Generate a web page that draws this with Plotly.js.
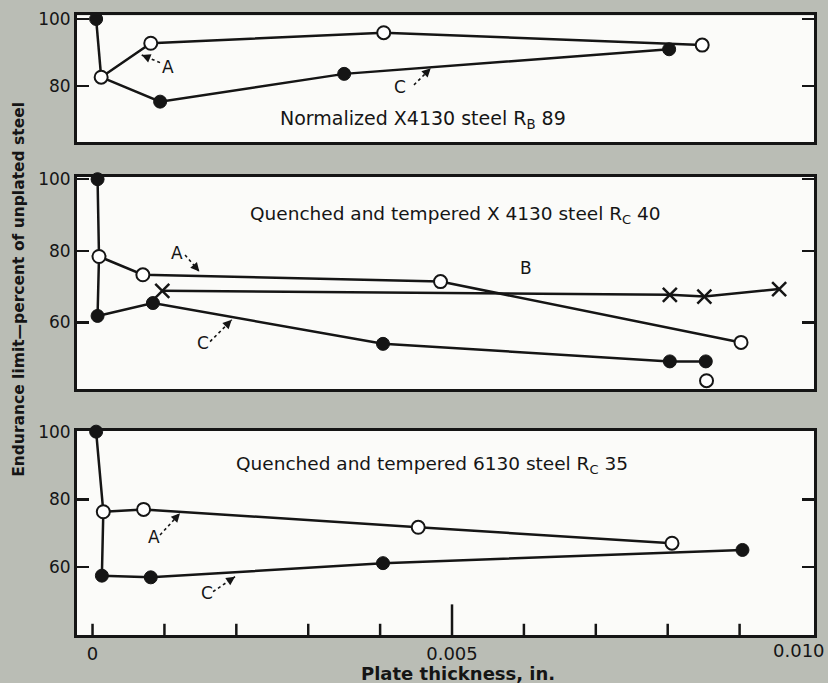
<!DOCTYPE html>
<html>
<head>
<meta charset="utf-8">
<script src="https://cdn.plot.ly/plotly-3.0.1.min.js"></script>
<style>html,body{margin:0;padding:0;background:#babdb5;}#chart{width:828px;height:683px;}</style>
</head>
<body>
<div id="chart"></div>
<script>
// ---------- DATA ----------
// Top panel: Normalized X4130 steel RB 89
var top_ctrl_x = [0.00005];
var top_ctrl_y = [100];
var top_A_x = [0.00012, 0.00081, 0.00405, 0.00848];
var top_A_y = [82.6, 92.75, 95.9, 92.2];
var top_C_x = [0.00012, 0.00094, 0.0035, 0.00802];
var top_C_y = [82.6, 75.3, 83.6, 90.95];

// Middle panel: Quenched and tempered X 4130 steel Rc 40
var mid_ctrl_x = [0.00007];
var mid_ctrl_y = [100];
var mid_A_x = [0.00009, 0.0007, 0.00484, 0.00902];
var mid_A_y = [78.4, 73.3, 71.4, 54.4];
var mid_A_extra_x = [0.00854];
var mid_A_extra_y = [43.7];
var mid_B_x = [0.00097, 0.00803, 0.00851, 0.00955];
var mid_B_y = [68.8, 67.7, 67.2, 69.3];
var mid_C_x = [0.00007, 0.00084, 0.00404, 0.00803, 0.00853];
var mid_C_y = [61.8, 65.4, 54.0, 49.1, 49.1];

// Bottom panel: Quenched and tempered 6130 steel Rc 35
var bot_ctrl_x = [0.00005];
var bot_ctrl_y = [100];
var bot_A_x = [0.00015, 0.00071, 0.00453, 0.00806];
var bot_A_y = [76.3, 77.0, 71.7, 67.0];
var bot_C_x = [0.00013, 0.00081, 0.00404, 0.00904];
var bot_C_y = [57.4, 56.9, 61.1, 65.0];

var x_tickvals = [0, 0.005];
var x_ticktext = ['0', '0.005'];
var x_last_label = '0.010';
var x_minor_ticks = [0, 0.001, 0.002, 0.003, 0.004, 0.005, 0.006, 0.007, 0.008, 0.009];
var y_ticks_top = [80, 100];
var y_ticks = [60, 80, 100];

// ---------- STYLE ----------
var INK = '#151515';
var FONT = 'DejaVu Sans, Verdana, sans-serif';
var lineStyle = {color: INK, width: 2.5};
var filled = {symbol: 'circle', size: 13, color: INK, line: {color: INK, width: 1}};
var open = {symbol: 'circle', size: 13, color: '#ffffff', line: {color: INK, width: 2}};
var cross = {symbol: 'x-thin-open', size: 14, color: INK, line: {color: INK, width: 2.5}};

function lineTrace(x, y, ax) {
  return {x: x, y: y, xaxis: 'x' + ax, yaxis: 'y' + ax, mode: 'lines', line: lineStyle,
          hoverinfo: 'skip', showlegend: false, cliponaxis: false};
}
function markTrace(x, y, ax, m) {
  return {x: x, y: y, xaxis: 'x' + ax, yaxis: 'y' + ax, mode: 'markers', marker: m,
          hoverinfo: 'skip', showlegend: false, cliponaxis: false};
}
function stem(cx, cy, ax, bx, by, cxs, cys) {
  return lineTrace([cx[0], bx[0], cxs[0]], [cy[0], by[0], cys[0]], ax);
}

var traces = [
  stem(top_ctrl_x, top_ctrl_y, '', top_A_x, top_A_y, top_C_x, top_C_y),
  lineTrace(top_A_x, top_A_y, ''),
  lineTrace(top_C_x, top_C_y, ''),
  stem(mid_ctrl_x, mid_ctrl_y, '2', mid_A_x, mid_A_y, mid_C_x, mid_C_y),
  lineTrace(mid_A_x, mid_A_y, '2'),
  lineTrace(mid_B_x, mid_B_y, '2'),
  lineTrace(mid_C_x, mid_C_y, '2'),
  stem(bot_ctrl_x, bot_ctrl_y, '3', bot_A_x, bot_A_y, bot_C_x, bot_C_y),
  lineTrace(bot_A_x, bot_A_y, '3'),
  lineTrace(bot_C_x, bot_C_y, '3'),
  markTrace(top_ctrl_x, top_ctrl_y, '', filled),
  markTrace(top_C_x.slice(1), top_C_y.slice(1), '', filled),
  markTrace(top_A_x, top_A_y, '', open),
  markTrace(mid_ctrl_x, mid_ctrl_y, '2', filled),
  markTrace(mid_C_x, mid_C_y, '2', filled),
  markTrace(mid_A_x, mid_A_y, '2', open),
  markTrace(mid_A_extra_x, mid_A_extra_y, '2', open),
  markTrace(mid_B_x, mid_B_y, '2', cross),
  markTrace(bot_ctrl_x, bot_ctrl_y, '3', filled),
  markTrace(bot_C_x, bot_C_y, '3', filled),
  markTrace(bot_A_x, bot_A_y, '3', open)
];

var XR = [-0.000216, 0.010035];
var XD = [0.0930, 0.9831];
function xax(anchor, showTicks) {
  var a = {domain: XD, range: XR, anchor: anchor, showgrid: false, zeroline: false,
           showline: true, linecolor: INK, linewidth: 3, mirror: true, fixedrange: true, ticks: ''};
  if (showTicks) {
    a.tickmode = 'array'; a.tickvals = x_tickvals; a.ticktext = x_ticktext;
    a.tickfont = {family: FONT, size: 18, color: INK};
  } else {
    a.showticklabels = false;
  }
  return a;
}
function yax(anchor, dom, rng, tv) {
  return {domain: dom, range: rng, anchor: anchor, showgrid: false, zeroline: false,
          showline: true, linecolor: INK, linewidth: 3, mirror: 'ticks',
          tickmode: 'array', tickvals: tv, ticks: 'inside', ticklen: 12, tickwidth: 2.5,
          tickcolor: INK, tickfont: {family: FONT, size: 17, color: INK}, fixedrange: true};
}

function txt(x, y, ax, s, size) {
  return {x: x, y: y, xref: 'x' + ax, yref: 'y' + ax, text: s, showarrow: false,
          font: {family: FONT, size: size || 17, color: INK}, xanchor: 'center', yanchor: 'middle'};
}
function head(x, y, ax, dx, dy) {
  return {x: x, y: y, xref: 'x' + ax, yref: 'y' + ax, text: ' ', showarrow: true,
          arrowhead: 2, arrowsize: 1.1, arrowwidth: 1.6, arrowcolor: INK, ax: dx, ay: dy, standoff: 0,
          font: {size: 1}};
}
function dots(x0, y0, x1, y1, ax) {
  return {type: 'line', xref: 'x' + ax, yref: 'y' + ax, x0: x0, y0: y0, x1: x1, y1: y1,
          line: {color: INK, width: 1.6, dash: 'dot'}, layer: 'above'};
}

var annotations = [
  txt(0.00459, 69.85, '', 'Normalized X4130 steel R<sub>B</sub> 89', 19),
  txt(0.005046, 90.03, '2', 'Quenched and tempered X 4130 steel R<sub>C</sub> 40', 18.5),
  txt(0.004715, 90.15, '3', 'Quenched and tempered 6130 steel R<sub>C</sub> 35', 18.5),
  txt(0.001054, 85.76, '', 'A'), txt(0.004277, 79.61, '', 'C'),
  txt(0.001171, 79.33, '2', 'A'), txt(0.001541, 54.36, '2', 'C'), txt(0.006025, 75.14, '2', 'B'),
  txt(0.000855, 68.93, '3', 'A'), txt(0.001588, 52.2, '3', 'C'),
  head(0.000684, 89.25, '', 5.5, 2.3),
  head(0.004704, 85.28, '', -4.2, 4.2),
  head(0.001485, 74.19, '2', -3.9, -4.6),
  head(0.001936, 60.70, '2', -4.2, 4.2),
  head(0.001217, 75.86, '3', -4.1, 4.4),
  head(0.001982, 57.10, '3', -5, 3.4),
  // last x tick label, kept inside the page edge as in the reference
  {x: 1.0, y: 0.0483, xref: 'paper', yref: 'paper', text: x_last_label, showarrow: false,
   font: {family: FONT, size: 18, color: INK}, xanchor: 'right', yanchor: 'middle', xshift: -1},
  {x: 0.5531, y: 0.0146, xref: 'paper', yref: 'paper', text: '<b>Plate thickness, in.</b>',
   showarrow: false, font: {family: FONT, size: 18, color: INK}, xanchor: 'center', yanchor: 'middle'},
  {x: 0.0229, y: 0.577, xref: 'paper', yref: 'paper', text: '<b>Endurance limit\u2014percent of unplated steel</b>',
   showarrow: false, textangle: -90, font: {family: FONT, size: 15.5, color: INK}, xanchor: 'center', yanchor: 'middle'}
];

var shapes = [
  dots(0.000939, 86.96, 0.000684, 89.25, ''),
  dots(0.004471, 80.30, 0.004704, 85.28, ''),
  dots(0.001287, 78.85, 0.001485, 74.19, '2'),
  dots(0.001635, 54.64, 0.001936, 60.70, '2'),
  dots(0.000939, 69.44, 0.001217, 75.86, '3'),
  dots(0.001676, 52.66, 0.001982, 57.10, '3')
];
// bottom-axis inward ticks every 0.001, the 0.005 one longer
x_minor_ticks.forEach(function (v) {
  shapes.push({type: 'line', xref: 'x3', yref: 'y3 domain', x0: v, x1: v, y0: 0,
               y1: (v === 0.005 ? 0.15 : 0.055), line: {color: INK, width: 2.5}, layer: 'above'});
});

var layout = {
  width: 828, height: 683,
  margin: {l: 0, r: 0, t: 0, b: 0},
  paper_bgcolor: '#babdb5', plot_bgcolor: '#fbfbf9',
  showlegend: false,
  xaxis: xax('y', false),
  xaxis2: xax('y2', false),
  xaxis3: xax('y3', true),
  yaxis: yax('x', [0.7914, 0.9776], [63.1, 101.1], y_ticks_top),
  yaxis2: yax('x2', [0.4300, 0.7413], [41.3, 100.7], y_ticks),
  yaxis3: yax('x3', [0.0703, 0.3690], [39.85, 100.2], y_ticks),
  annotations: annotations,
  shapes: shapes
};

Plotly.newPlot('chart', traces, layout, {staticPlot: true, displayModeBar: false});
</script>
</body>
</html>
